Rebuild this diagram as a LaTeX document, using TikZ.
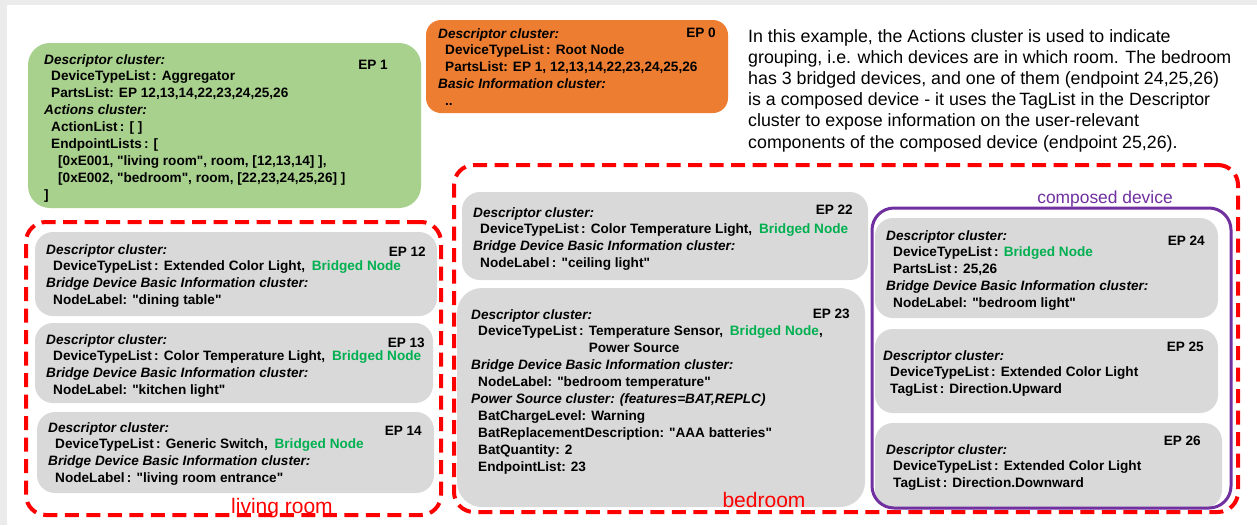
\documentclass[tikz,border=0pt]{standalone}
\usepackage{fontspec}
\setmainfont{Liberation Sans}
\usetikzlibrary{positioning}

\definecolor{bggray}{HTML}{EBEBEB}
\definecolor{boxgray}{HTML}{D9D9D9}
\definecolor{aggreen}{HTML}{A9D18E}
\definecolor{rootorange}{HTML}{ED7D31}
\definecolor{bridgegreen}{HTML}{00B050}
\definecolor{roomred}{HTML}{FF0000}
\definecolor{composedpurple}{HTML}{7030A0}

\newcommand{\subln}{\hspace*{7pt}}
\newcommand{\bridgednode}{\textcolor{bridgegreen}{Bridged Node}}
\newcommand{\qt}[1]{\textquotedbl#1\textquotedbl}

\begin{document}
\begin{tikzpicture}[x=1pt,y=-1pt,
	devbox/.style={fill=boxgray, rounded corners=18pt, anchor=north west, inner sep=0pt, outer sep=0pt},
	eptext/.style={font=\fontsize{13.6}{16.9}\selectfont\bfseries, align=left, inner sep=0pt},
	eplabel/.style={font=\fontsize{13.6}{16.9}\selectfont\bfseries, inner sep=0pt},
	roomframe/.style={draw=roomred, line width=4pt, dash pattern=on 14pt off 7.5pt, rounded corners=20pt, anchor=north west, inner sep=0pt, outer sep=0pt},
	roomlabel/.style={text=roomred, font=\fontsize{21}{25}\selectfont, inner sep=0pt, anchor=base}]

	\useasboundingbox (0,0) rectangle (1257,525);
	\fill[bggray] (0,0) rectangle (1257,525);
	\fill[white] (7,5) rectangle (1257,525);

	% root node and aggregator
	\node[devbox, fill=rootorange, rounded corners=15pt, minimum width=302pt, minimum height=93pt] (ep0) at (426,20) {};
	\node[eptext, below right=8pt and 12pt of ep0.north west] (ep0txt) {\textit{Descriptor cluster:}\\
		\subln DeviceTypeList\,: Root Node\\
		\subln PartsList: EP 1, 12,13,14,22,23,24,25,26\\
		\textit{Basic Information cluster:}\\
		\subln ..};
	\node[eplabel, below left=8pt and 12pt of ep0.north east] (ep0lbl) {EP 0};

	\node[devbox, fill=aggreen, rounded corners=22pt, minimum width=393pt, minimum height=165pt] (ep1) at (28,43) {};
	\node[eptext, below right=11pt and 16pt of ep1.north west] (ep1txt) {\textit{Descriptor cluster:}\\
		\subln DeviceTypeList\,: Aggregator\\
		\subln PartsList: EP 12,13,14,22,23,24,25,26\\
		\textit{Actions cluster:}\\
		\subln ActionList\,: [ ]\\
		\subln EndpointLists\,: [\\
		\subln\subln [0xE001, \qt{living room}, room, [12,13,14] ],\\
		\subln\subln [0xE002, \qt{bedroom}, room, [22,23,24,25,26] ]\\
		]};
	\node[eplabel, below left=17pt and 33pt of ep1.north east] (ep1lbl) {EP 1};

	\node[anchor=north west, align=left, inner sep=0pt, font=\fontsize{17.8}{21.2}\selectfont] (note) at (748,29) {In this example, the Actions cluster is used to indicate\\
		grouping, i.e. which devices are in which room. The bedroom\\
		has 3 bridged devices, and one of them (endpoint 24,25,26)\\
		is a composed device - it uses the\,TagList in the Descriptor\\
		cluster to expose information on the user-relevant\\
		components of the composed device (endpoint 25,26).};

	% living room
	\node[devbox, minimum width=402pt, minimum height=84pt] (ep12) at (35,232) {};
	\node[eptext, below right=12pt and 11pt of ep12.north west] (ep12txt) {\textit{Descriptor cluster:}\\
		\subln DeviceTypeList\,: Extended Color Light,\enspace\bridgednode\\
		\textit{Bridge Device Basic Information cluster:}\\
		\subln NodeLabel: \qt{dining table}};
	\node[eplabel, below left=15pt and 11pt of ep12.north east] (ep12lbl) {EP 12};

	\node[devbox, minimum width=398pt, minimum height=80pt] (ep13) at (35,323) {};
	\node[eptext, below right=11pt and 11pt of ep13.north west] (ep13txt) {\textit{Descriptor cluster:}\\
		\subln DeviceTypeList\,: Color Temperature Light,\enspace\bridgednode\\
		\textit{Bridge Device Basic Information cluster:}\\
		\subln NodeLabel: \qt{kitchen light}};
	\node[eplabel, below left=15pt and 8pt of ep13.north east] (ep13lbl) {EP 13};

	\node[devbox, minimum width=397pt, minimum height=81pt] (ep14) at (37,412) {};
	\node[eptext, below right=10pt and 11pt of ep14.north west] (ep14txt) {\textit{Descriptor cluster:}\\
		\subln DeviceTypeList\,: Generic Switch,\enspace\bridgednode\\
		\textit{Bridge Device Basic Information cluster:}\\
		\subln NodeLabel\,: \qt{living room entrance}};
	\node[eplabel, below left=14pt and 12pt of ep14.north east] (ep14lbl) {EP 14};

	\node[roomframe, minimum width=415pt, minimum height=293pt] (livingroom) at (26,222) {};
	\node[roomlabel] (livinglbl) at (282,513) {living room};

	% bedroom
	\node[devbox, minimum width=406pt, minimum height=88pt] (ep22) at (462,192) {};
	\node[eptext, below right=15pt and 11pt of ep22.north west] (ep22txt) {\textit{Descriptor cluster:}\\
		\subln DeviceTypeList\,: Color Temperature Light,\enspace\bridgednode\\
		\textit{Bridge Device Basic Information cluster:}\\
		\subln NodeLabel\,: \qt{ceiling light}};
	\node[eplabel, below left=13pt and 15pt of ep22.north east] (ep22lbl) {EP 22};

	\node[devbox, rounded corners=25pt, minimum width=408pt, minimum height=219pt] (ep23) at (457,288) {};
	\node[eptext, below right=21pt and 14pt of ep23.north west] (ep23txt) {\textit{Descriptor cluster:}\\
		\subln DeviceTypeList\,: Temperature Sensor,\enspace\bridgednode,\\
		\subln\phantom{DeviceTypeList\,: }Power Source\\
		\textit{Bridge Device Basic Information cluster:}\\
		\subln NodeLabel: \qt{bedroom temperature}\\
		\textit{Power Source cluster: (features=BAT,REPLC)}\\
		\subln BatChargeLevel: Warning\\
		\subln BatReplacementDescription: \qt{AAA batteries}\\
		\subln BatQuantity: 2\\
		\subln EndpointList: 23};
	\node[eplabel, below left=21pt and 15pt of ep23.north east] (ep23lbl) {EP 23};

	% composed device
	\node[devbox, minimum width=343pt, minimum height=100pt] (ep24) at (875,218) {};
	\node[eptext, below right=12pt and 11pt of ep24.north west] (ep24txt) {\textit{Descriptor cluster:}\\
		\subln DeviceTypeList\,: \bridgednode\\
		\subln PartsList\,: 25,26\\
		\textit{Bridge Device Basic Information cluster:}\\
		\subln NodeLabel: \qt{bedroom light}};
	\node[eplabel, below left=18pt and 13pt of ep24.north east] (ep24lbl) {EP 24};

	\node[devbox, minimum width=343pt, minimum height=84pt] (ep25) at (875,329) {};
	\node[eptext, below right=21pt and 8pt of ep25.north west] (ep25txt) {\textit{Descriptor cluster:}\\
		\subln DeviceTypeList\,: Extended Color Light\\
		\subln TagList\,: Direction.Upward};
	\node[eplabel, below left=13pt and 14pt of ep25.north east] (ep25lbl) {EP 25};

	\node[devbox, minimum width=347pt, minimum height=85pt] (ep26) at (875,423) {};
	\node[eptext, below right=21pt and 11pt of ep26.north west] (ep26txt) {\textit{Descriptor cluster:}\\
		\subln DeviceTypeList\,: Extended Color Light\\
		\subln TagList\,: Direction.Downward};
	\node[eplabel, below left=13pt and 21pt of ep26.north east] (ep26lbl) {EP 26};

	\node[draw=composedpurple, line width=3pt, rounded corners=22pt, anchor=north west, inner sep=0pt, outer sep=0pt, minimum width=359pt, minimum height=300pt] (composed) at (872,208) {};
	\node[text=composedpurple, font=\fontsize{17.4}{21}\selectfont, inner sep=0pt, anchor=base] (composedlbl) at (1105,203) {composed device};

	\node[roomframe, minimum width=784pt, minimum height=347pt] (bedroom) at (454,165) {};
	\node[roomlabel] (bedroomlbl) at (764,507) {bedroom};
\end{tikzpicture}
\end{document}
